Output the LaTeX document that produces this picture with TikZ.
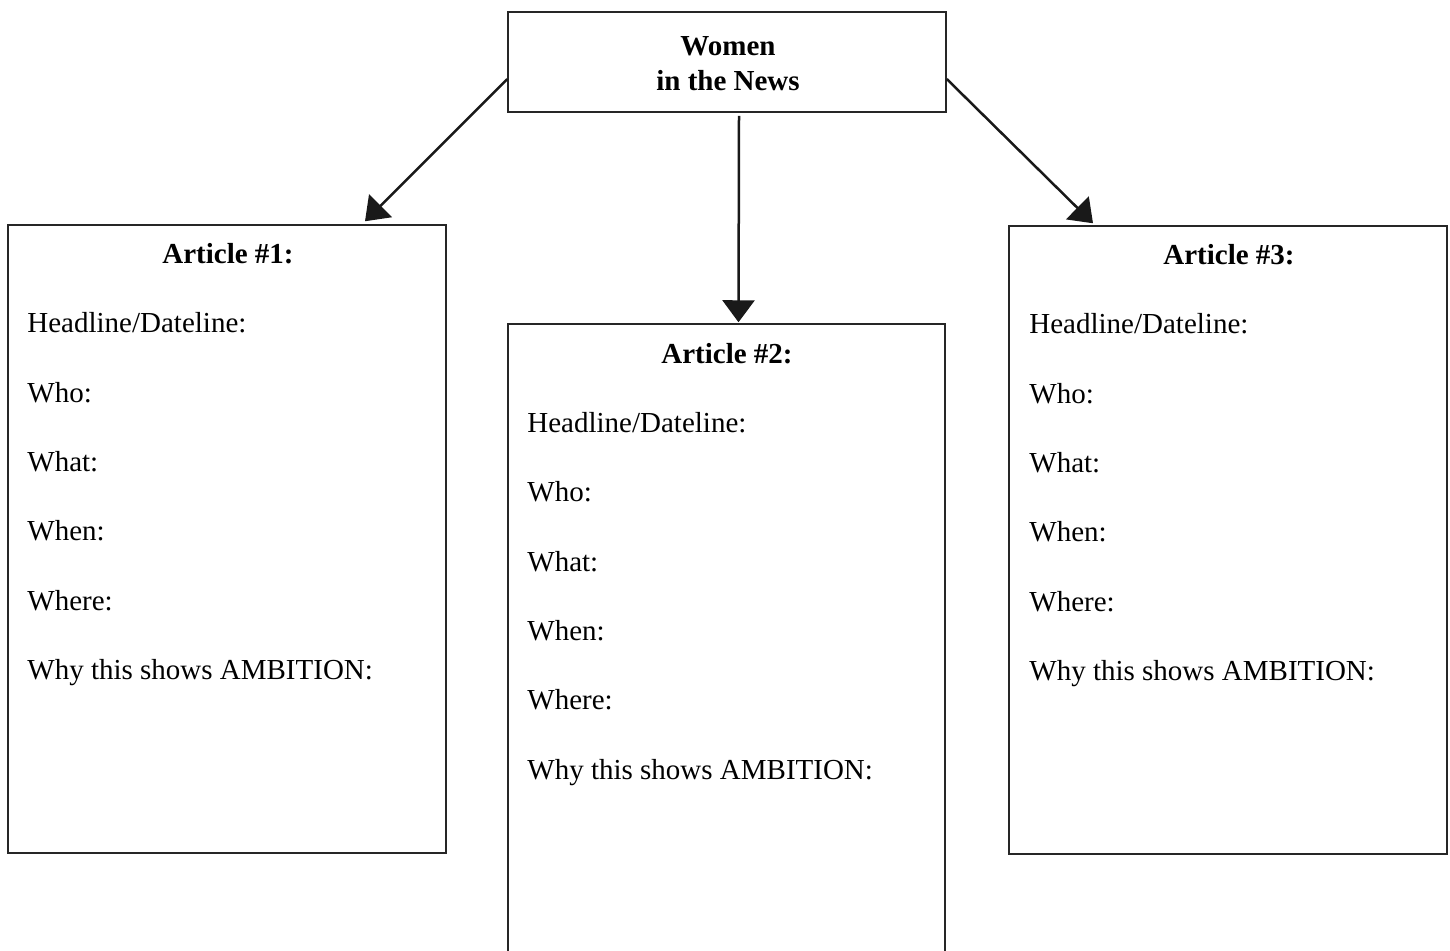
\documentclass[tikz,border=0pt]{standalone}
\usepackage{fontspec}
\setmainfont{Liberation Serif}
\usetikzlibrary{arrows.meta,calc}
\begin{document}
\begin{tikzpicture}[x=0.5pt,y=-0.5pt,
  box/.style={draw=black!85,line width=0.75pt,rectangle,inner sep=0pt,minimum width=219pt},
  item/.style={anchor=base west,inner sep=0pt,font=\fontsize{14.5}{17}\selectfont},
  head/.style={anchor=base,inner sep=0pt,font=\fontsize{14.5}{17}\selectfont\bfseries},
  arr/.style={line width=1.25pt,draw=black!90,-{Triangle[length=11pt,width=16pt]}}]
\clip (0,0) rectangle (1450,950);
\fill[white] (0,0) rectangle (1450,950);
% boxes
\node[box,minimum height=50pt] (top) at (727,62) {};
\node[box,minimum height=314pt] (a1) at (227,539) {};
\node[box,minimum width=218.5pt,minimum height=338pt] (a2) at (726.5,662) {};
\node[box,minimum height=314pt] (a3) at (1228,540) {};
% top text
\node[head] (t1) at (728,55) {Women};
\node[head] (t2) at (728,90) {in the News};
% article 1
\node[head] (h1) at (228,263) {Article \#1:};
\node[item] (l1a) at (27,332) {Headline/Dateline:};
\node[item] (l1b) at (27,402) {Who:};
\node[item] (l1c) at (27,471) {What:};
\node[item] (l1d) at (27,540) {When:};
\node[item] (l1e) at (27,610) {Where:};
\node[item] (l1f) at (27,679) {Why this shows AMBITION:};
% article 2
\node[head] (h2) at (727,363) {Article \#2:};
\node[item] (l2a) at (527,432) {Headline/Dateline:};
\node[item] (l2b) at (527,501) {Who:};
\node[item] (l2c) at (527,571) {What:};
\node[item] (l2d) at (527,640) {When:};
\node[item] (l2e) at (527,709) {Where:};
\node[item] (l2f) at (527,779) {Why this shows AMBITION:};
% article 3
\node[head] (h3) at (1229,264) {Article \#3:};
\node[item] (l3a) at (1029,333) {Headline/Dateline:};
\node[item] (l3b) at (1029,403) {Who:};
\node[item] (l3c) at (1029,472) {What:};
\node[item] (l3d) at (1029,541) {When:};
\node[item] (l3e) at (1029,611) {Where:};
\node[item] (l3f) at (1029,680) {Why this shows AMBITION:};
% arrows
\draw[arr] ($(top.west)+(0,17)$) -- ($(a1.north)+(138,-3)$);
\draw[arr] ($(top.south)+(12,3)$) -- ($(a2.north)+(12,-1)$);
\draw[arr] ($(top.east)+(0,17)$) -- ($(a3.north)+(-135,-2)$);
\end{tikzpicture}
\end{document}
